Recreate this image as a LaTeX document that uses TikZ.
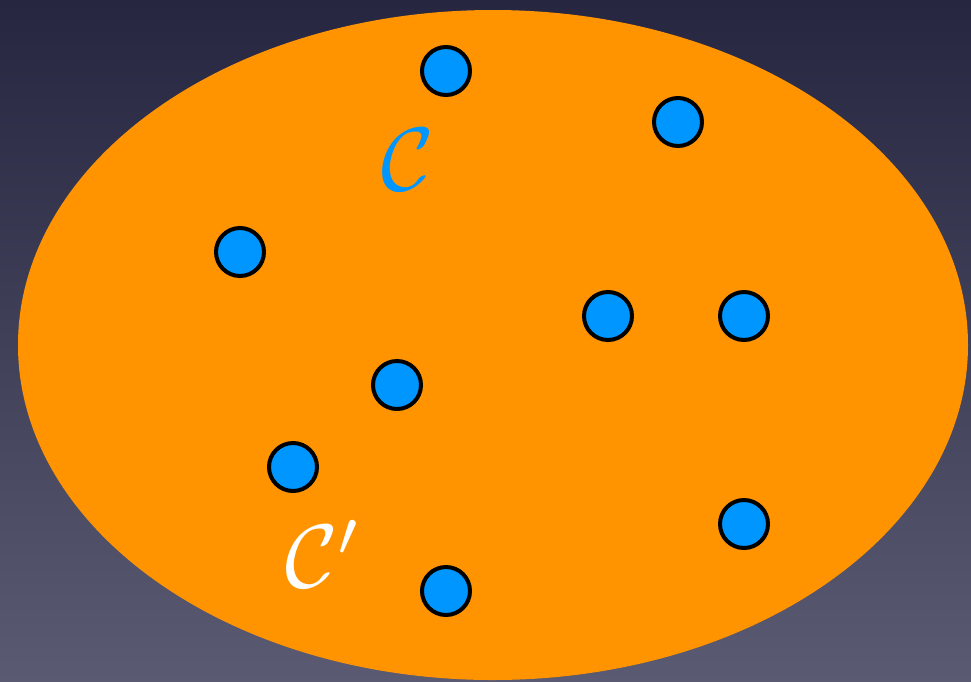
\documentclass[tikz,border=0pt]{standalone}
\usepackage{graphicx}
\definecolor{skytop}{RGB}{38,38,64}
\definecolor{skybot}{RGB}{90,90,114}
\definecolor{setbg}{RGB}{255,148,0}
\definecolor{ptblue}{RGB}{0,150,255}

\begin{document}
\begin{tikzpicture}[
    x=1pt, y=-1pt,
    % --- styles ---
    pt/.style    ={circle, draw=black, line width=4pt, fill=ptblue,
                   minimum size=48pt, inner sep=0pt},
    setlbl/.style={inner sep=0pt},
]

% =============== background ===============
\shade[top color=skytop, bottom color=skybot] (0,0) rectangle (971,681);
\useasboundingbox (0,0) rectangle (971,681);

% =============== the set ===============
\fill[setbg] (493,345) ellipse [x radius=475, y radius=335];

% =============== points ===============
\node[pt] (p1) at (446,71)  {};
\node[pt] (p2) at (678,122) {};
\node[pt] (p3) at (240,252) {};
\node[pt] (p4) at (608,316) {};
\node[pt] (p5) at (744,316) {};
\node[pt] (p6) at (397,385) {};
\node[pt] (p7) at (293,467) {};
\node[pt] (p8) at (744,524) {};
\node[pt] (p9) at (446,591) {};

% =============== labels ===============
\node[setlbl, text=ptblue] (c)  at (408,160) {\scalebox{9}{$\mathcal{C}$}};
\node[setlbl, text=white]  (cp) at (324,554) {\scalebox{9}{$\mathcal{C}'$}};

\end{tikzpicture}
\end{document}
